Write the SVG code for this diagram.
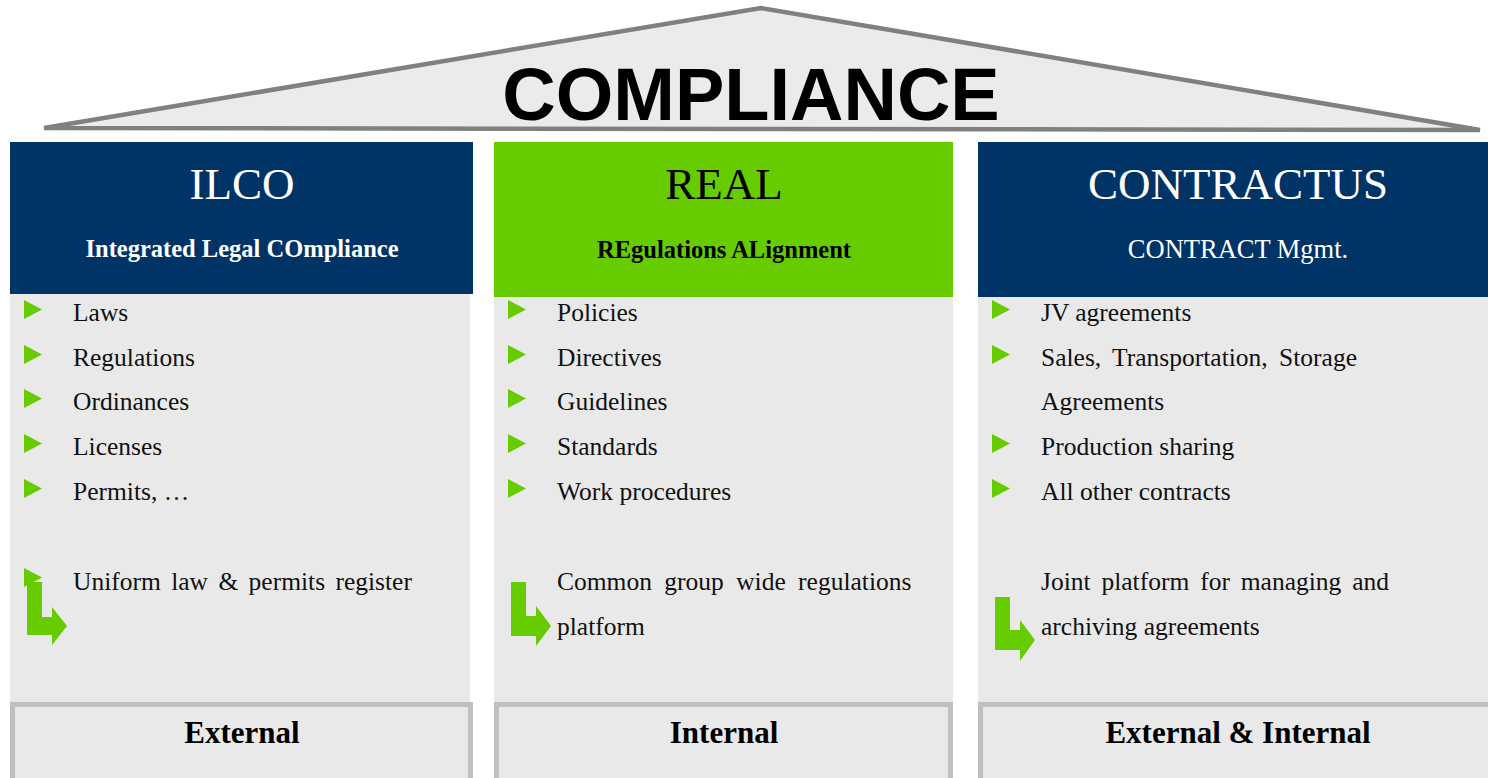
<svg xmlns="http://www.w3.org/2000/svg" width="1488" height="778" viewBox="0 0 1488 778">
<style>
.hdrB{fill:#003366}
.hdrG{fill:#66cc00}
.body{fill:#e9e9e9}
.foot{fill:#e9e9e9;stroke:#c0c0c0;stroke-width:5}
.title{font-family:"Liberation Serif",serif;font-size:45px;text-anchor:middle}
.sub{font-family:"Liberation Serif",serif;font-size:24.5px;text-anchor:middle}
.item{font-family:"Liberation Serif",serif;font-size:25.5px;fill:#111}
.foottxt{font-family:"Liberation Serif",serif;font-size:31px;font-weight:bold;text-anchor:middle;fill:#000}
.tri{fill:#66cc00}
.w{fill:#ffffff}
.k{fill:#000000}
</style>
<defs>
<polygon id="bullet" points="0,0 18,9.5 0,19" class="tri"/>
</defs>
<rect width="1488" height="778" fill="#ffffff"/>

<g id="roof">
<polygon points="44,128 761,8 1480,130" fill="#ebebeb" stroke="#808080" stroke-width="4.5" stroke-linejoin="miter"/>
<text x="751" y="120" font-family="Liberation Sans,Arial,sans-serif" font-size="74" font-weight="bold" text-anchor="middle" fill="#000">COMPLIANCE</text>
</g>

<g id="ilco">
<rect x="10" y="294" width="460" height="410" class="body"/>
<rect x="10" y="142" width="463" height="152" class="hdrB"/>
<text x="242" y="199" class="title w">ILCO</text>
<text x="242" y="257" class="sub w" font-weight="bold">Integrated Legal COmpliance</text>
<use href="#bullet" x="24" y="300"/>
<use href="#bullet" x="24" y="345"/>
<use href="#bullet" x="24" y="389"/>
<use href="#bullet" x="24" y="434"/>
<use href="#bullet" x="24" y="479"/>
<text x="73" y="321" class="item">Laws</text>
<text x="73" y="366" class="item">Regulations</text>
<text x="73" y="410" class="item">Ordinances</text>
<text x="73" y="455" class="item">Licenses</text>
<text x="73" y="500" class="item">Permits, …</text>
<use href="#bullet" x="24" y="568"/>
<polygon class="tri" points="27,582 42,582 42,617 52,617 52,607 67,626 52,645 52,635 27,635"/>
<text x="73" y="590" class="item" word-spacing="4">Uniform law &amp; permits register</text>
<rect x="12.5" y="704.5" width="458" height="76" class="foot"/>
<text x="242" y="743" class="foottxt">External</text>
</g>

<g id="real">
<rect x="494" y="297" width="459" height="407" class="body"/>
<rect x="494" y="142" width="459" height="155" class="hdrG"/>
<text x="724" y="199" class="title k">REAL</text>
<text x="724" y="258" class="sub k" font-weight="bold">REgulations ALignment</text>
<use href="#bullet" x="508" y="300"/>
<use href="#bullet" x="508" y="345"/>
<use href="#bullet" x="508" y="389"/>
<use href="#bullet" x="508" y="434"/>
<use href="#bullet" x="508" y="479"/>
<text x="557" y="321" class="item">Policies</text>
<text x="557" y="366" class="item">Directives</text>
<text x="557" y="410" class="item">Guidelines</text>
<text x="557" y="455" class="item">Standards</text>
<text x="557" y="500" class="item">Work procedures</text>
<polygon class="tri" points="511,582 526,582 526,616 536,616 536,606 551,626 536,646 536,636 511,636"/>
<text x="557" y="590" class="item" word-spacing="6">Common group wide regulations</text>
<text x="557" y="635" class="item">platform</text>
<rect x="496.5" y="704.5" width="454" height="76" class="foot"/>
<text x="724" y="743" class="foottxt">Internal</text>
</g>

<g id="contractus">
<rect x="978" y="297" width="510" height="407" class="body"/>
<rect x="978" y="142" width="510" height="155" class="hdrB"/>
<text x="1238" y="199" class="title w">CONTRACTUS</text>
<text x="1238" y="258" class="sub w" font-size="26.5" style="font-size:26.5px">CONTRACT Mgmt.</text>
<use href="#bullet" x="992" y="300"/>
<use href="#bullet" x="992" y="345"/>
<use href="#bullet" x="992" y="434"/>
<use href="#bullet" x="992" y="479"/>
<text x="1041" y="321" class="item">JV agreements</text>
<text x="1041" y="366" class="item" word-spacing="5">Sales, Transportation, Storage</text>
<text x="1041" y="410" class="item">Agreements</text>
<text x="1041" y="455" class="item">Production sharing</text>
<text x="1041" y="500" class="item">All other contracts</text>
<polygon class="tri" points="995,597 1010,597 1010,630 1020,630 1020,620 1035,640 1020,661 1020,650 995,650"/>
<text x="1041" y="590" class="item" word-spacing="4.5">Joint platform for managing and</text>
<text x="1041" y="635" class="item">archiving agreements</text>
<rect x="980.5" y="704.5" width="512" height="76" class="foot"/>
<text x="1238" y="743" class="foottxt">External &amp; Internal</text>
</g>

<g id="connectors"/>
</svg>
